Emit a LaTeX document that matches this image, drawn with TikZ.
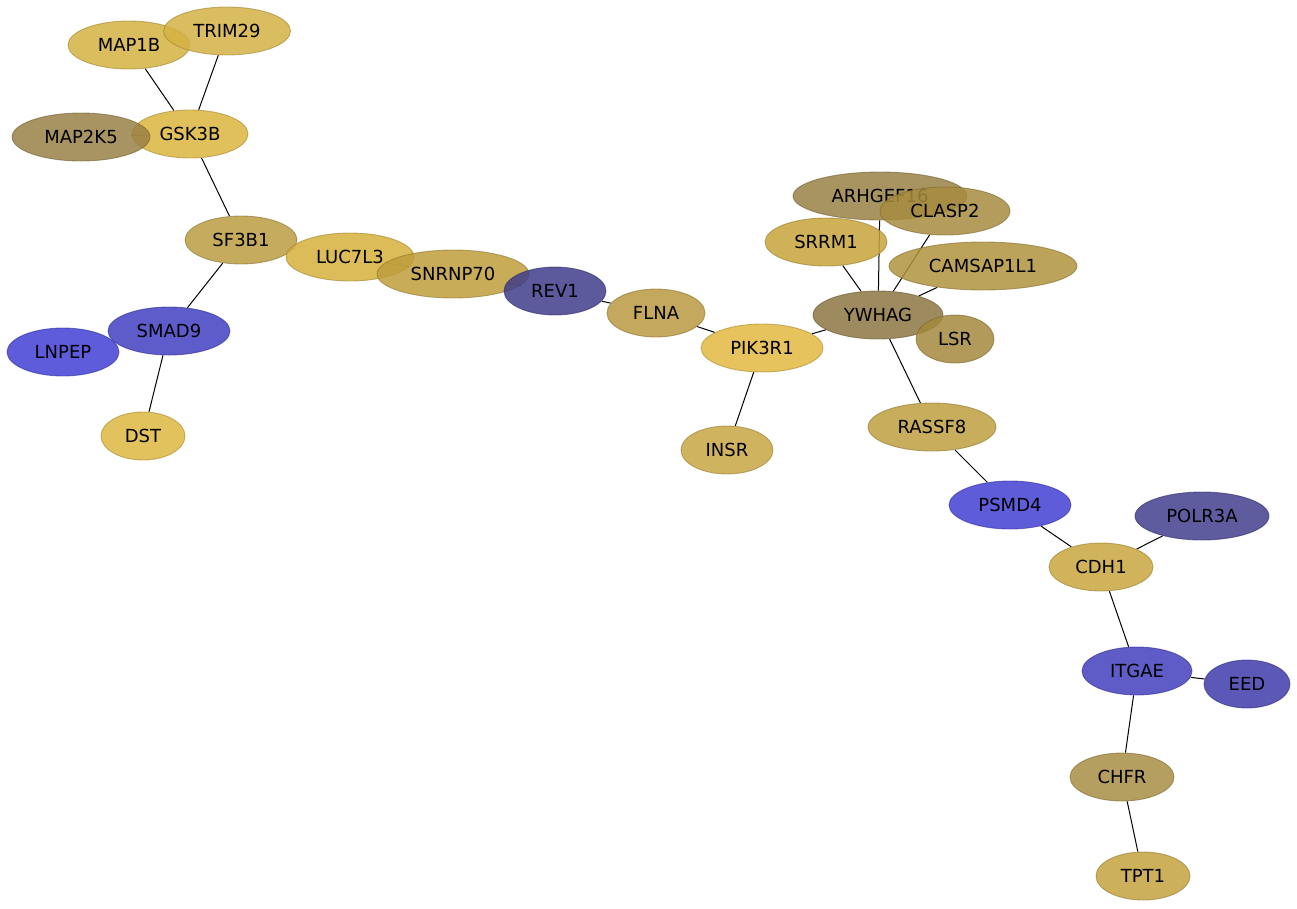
\documentclass[tikz,border=0pt]{standalone}
\usepackage{fontspec}
\setmainfont{DejaVu Sans}
\usetikzlibrary{shapes.geometric}
\pgfdeclarelayer{bg}
\pgfsetlayers{bg,main}
\tikzset{
  gene/.style={ellipse, inner sep=0pt, minimum height=48pt, fill opacity=0.85, draw opacity=0.6, line width=0.9pt, text opacity=1, font=\fontsize{18}{21}\selectfont},
  link/.style={draw=black, line width=1pt},
}
\newcommand{\gn}[6]{\definecolor{c#1}{RGB}{#5}\node[gene, minimum width=#4pt, fill=c#1, draw=c#1!75!black] (#1) at (#2,#3) {#6};}
\begin{document}
\begin{tikzpicture}[x=1pt,y=-1pt]
\useasboundingbox (0,0) rectangle (1297,908);
\gn{MAPb}{129}{45}{122}{212,177,64}{MAP1B}
\gn{TRIM}{227}{31}{127}{212,177,68}{TRIM29}
\gn{GSK}{190}{134}{116}{219,181,61}{GSK3B}
\gn{MAPk}{81}{137}{138}{153,129,70}{MAP2K5}
\gn{SFB}{241}{240}{112}{187,156,66}{SF3B1}
\gn{LUC}{350}{257}{128}{214,176,60}{LUC7L3}
\gn{SNR}{453}{274}{152}{190,157,59}{SNRNP70}
\gn{REV}{555}{291}{102}{63,61,139}{REV1}
\gn{FLNA}{656}{313}{98}{184,153,66}{FLNA}
\gn{PIK}{762}{348}{122}{226,184,63}{PIK3R1}
\gn{INSR}{727}{450}{92}{199,166,66}{INSR}
\gn{ARH}{880}{196}{174}{153,129,68}{ARHGEF16}
\gn{CLA}{945}{211}{130}{167,140,63}{CLASP2}
\gn{SRRM}{826}{242}{122}{199,164,59}{SRRM1}
\gn{CAM}{983}{266}{188}{176,147,61}{CAMSAP1L1}
\gn{YWH}{878}{315}{130}{140,117,66}{YWHAG}
\gn{LSR}{955}{339}{78}{164,137,61}{LSR}
\gn{RAS}{932}{427}{128}{189,159,63}{RASSF8}
\gn{PSMD}{1010}{505}{122}{67,63,210}{PSMD4}
\gn{POL}{1202}{516}{134}{66,62,141}{POLR3A}
\gn{CDH}{1101}{567}{104}{201,166,63}{CDH1}
\gn{ITG}{1137}{671}{110}{67,63,190}{ITGAE}
\gn{EED}{1247}{684}{86}{63,59,171}{EED}
\gn{CHFR}{1122}{777}{104}{167,142,68}{CHFR}
\gn{TPT}{1143}{876}{94}{196,162,63}{TPT1}
\gn{SMAD}{169}{331}{122}{66,63,194}{SMAD9}
\gn{LNP}{63}{352}{112}{67,63,214}{LNPEP}
\gn{DST}{143}{436}{84}{221,183,63}{DST}
\begin{pgfonlayer}{bg}
\draw[link] (MAPb) -- (GSK);
\draw[link] (TRIM) -- (GSK);
\draw[link] (MAPk) -- (GSK);
\draw[link] (GSK) -- (SFB);
\draw[link] (SFB) -- (LUC);
\draw[link] (SFB) -- (SMAD);
\draw[link] (LUC) -- (SNR);
\draw[link] (SNR) -- (REV);
\draw[link] (REV) -- (FLNA);
\draw[link] (FLNA) -- (PIK);
\draw[link] (PIK) -- (INSR);
\draw[link] (PIK) -- (YWH);
\draw[link] (YWH) -- (ARH);
\draw[link] (YWH) -- (CLA);
\draw[link] (YWH) -- (SRRM);
\draw[link] (YWH) -- (CAM);
\draw[link] (YWH) -- (LSR);
\draw[link] (YWH) -- (RAS);
\draw[link] (RAS) -- (PSMD);
\draw[link] (PSMD) -- (CDH);
\draw[link] (CDH) -- (POL);
\draw[link] (CDH) -- (ITG);
\draw[link] (ITG) -- (EED);
\draw[link] (ITG) -- (CHFR);
\draw[link] (CHFR) -- (TPT);
\draw[link] (SMAD) -- (LNP);
\draw[link] (SMAD) -- (DST);
\end{pgfonlayer}
\end{tikzpicture}
\end{document}
